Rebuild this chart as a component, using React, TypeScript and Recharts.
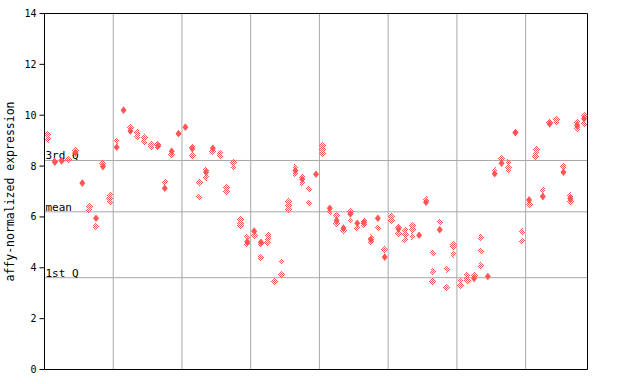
import React from 'react';
import { ReferenceLine, Scatter, ScatterChart, XAxis, YAxis } from 'recharts';

// one column per sample, x = index + 0.5
const sampleCount = 79;

// solid diamonds
const filledExpr: (number | null)[] = [
  null, 8.15, 8.2, null, 8.52, 7.33, null, 5.95, 7.98, null,
  8.74, 10.2, 9.38, null, null, null, 8.8, 7.13, 8.58, 9.28,
  9.53, 8.68, null, 7.76, 8.7, null, null, null, null, 5.02,
  5.44, 5.0, null, null, null, null, 7.82, 7.48, null, 7.68,
  null, 6.34, 5.86, 5.56, 6.12, 5.75, 5.78, 5.1, 5.95, 4.42,
  null, 5.53, null, null, 5.28, 6.58, null, 5.5, null, null,
  null, null, 3.58, null, 3.66, 7.7, 8.11, null, 9.31, null,
  6.67, null, 6.8, 9.66, null, 7.76, 6.72, 9.6, 9.86,
];

// checkered diamonds (up to three per sample)
const hatchA: (number | null)[] = [
  9.25, 8.2, 8.25, 8.28, 8.6, null, 6.42, 5.62, 8.1, 6.85,
  9.0, null, 9.5, 9.3, 9.12, 8.85, 8.85, 7.37, 8.47, 9.24,
  null, 8.75, 7.35, 7.84, 8.57, 8.5, 7.15, 8.12, 5.9, 5.2,
  5.27, 4.95, 5.27, 3.46, 4.25, 6.6, 7.95, 7.58, 7.1, null,
  8.8, 6.21, 6.06, 5.48, 6.23, 5.57, 5.85, 5.18, 5.57, 4.71,
  6.0, 5.6, 5.49, 5.66, null, 6.68, 4.59, 5.81, 3.96, 4.9,
  3.5, 3.7, 3.7, 5.18, null, 7.83, 8.28, 8.15, 9.36, 5.41,
  6.49, 8.65, 7.04, 9.7, 9.82, 7.96, 6.82, 9.73, 9.99,
];

const hatchB: (number | null)[] = [
  9.05, null, null, 8.22, null, null, 6.28, null, null, 6.72,
  null, null, null, 9.18, 8.95, 8.75, 8.75, null, null, null,
  null, 8.42, 6.78, 7.56, null, 8.4, 7.0, 7.95, 5.75, 4.95,
  null, 4.4, 5.12, null, 3.74, 6.45, 7.7, 7.35, 6.55, null,
  8.65, null, 5.75, null, 5.86, null, 5.7, 5.02, null, null,
  5.85, 5.36, 5.3, 5.5, null, null, 3.84, null, 3.21, 4.82,
  3.3, 3.55, null, 4.67, null, null, null, 7.95, null, 5.06,
  null, 8.5, null, null, 9.72, null, 6.62, 9.49, 9.66,
];

const hatchC: (number | null)[] = [
  null, null, null, null, null, null, null, null, null, 6.6,
  null, null, null, null, null, null, null, null, null, null,
  null, null, null, null, null, null, null, null, 5.65, null,
  null, null, 5.0, null, null, 6.3, null, null, null, null,
  8.5, null, null, null, null, null, null, null, null, null,
  null, null, 5.1, 5.23, null, null, 3.46, null, null, 4.55,
  null, 3.5, null, 4.08, null, null, null, 7.82, null, null,
  null, 8.38, null, null, null, null, null, null, null,
];

const quantiles = [
  { name: '3rd Q', value: 8.22 },
  { name: 'mean', value: 6.2 },
  { name: '1st Q', value: 3.61 },
];

const yTicks = [0, 2, 4, 6, 8, 10, 12, 14];
const groupLines = [10, 20, 30, 40, 50, 60, 70];

const RED = '#ff5555';
const GRID = '#a8a8a8';
const MONO = '"DejaVu Sans Mono", "Liberation Mono", monospace';

const toPoints = (vals: (number | null)[]) =>
  vals
    .map((v, i) => (v == null ? null : { x: i + 0.5, y: v }))
    .filter((p): p is { x: number; y: number } => p !== null);

const hatchPoints = [...toPoints(hatchA), ...toPoints(hatchB), ...toPoints(hatchC)];
const filledPoints = toPoints(filledExpr);

const diamond = (cx: number, cy: number, hw: number, hh: number) =>
  `${cx},${cy - hh} ${cx + hw},${cy} ${cx},${cy + hh} ${cx - hw},${cy}`;

const FilledDiamond = (props: any) => {
  const { cx, cy } = props;
  if (cx == null || cy == null) return <g />;
  return <polygon points={diamond(cx, cy, 3, 3.8)} fill={RED} />;
};

const HatchDiamond = (props: any) => {
  const { cx, cy } = props;
  if (cx == null || cy == null) return <g />;
  return <polygon points={diamond(cx, cy, 3.6, 3.8)} fill="url(#chk)" shapeRendering="crispEdges" />;
};

const NoTick = () => <g />;

const AxisTitle = (p: any) => {
  const vb = p.viewBox || { x: 0, y: 13.5, width: 44, height: 356 };
  const cy = vb.y + vb.height / 2;
  return (
    <text
      x={14}
      y={cy}
      transform={`rotate(-90 14 ${cy})`}
      textAnchor="middle"
      fontSize={11.5}
      fontFamily={MONO}
      fill="#000"
    >
      affy-normalized expression
    </text>
  );
};

const App = () => {
  return (
    <div style={{ position: 'absolute', left: 0, top: 0, width: 640, height: 384, background: '#fff' }}>
      <svg width={0} height={0} style={{ position: 'absolute' }}>
        <defs>
          <pattern id="chk" width={2} height={2} patternUnits="userSpaceOnUse">
            <rect x={0} y={0} width={1} height={1} fill={RED} />
            <rect x={1} y={1} width={1} height={1} fill={RED} />
          </pattern>
        </defs>
      </svg>
      <ScatterChart width={640} height={384} margin={{ top: 13.5, right: 0, bottom: 0, left: 0.5 }}>
        <XAxis
          type="number"
          dataKey="x"
          domain={[0, sampleCount]}
          ticks={groupLines}
          tick={false}
          tickLine={false}
          height={14.5}
          axisLine={{ stroke: '#000' }}
          allowDataOverflow
        />
        <YAxis
          type="number"
          dataKey="y"
          domain={[0, 14]}
          ticks={yTicks}
          width={44}
          tickSize={5}
          tickMargin={3}
          axisLine={{ stroke: '#000' }}
          tickLine={{ stroke: '#000' }}
          tick={{ fontSize: 10, fontFamily: MONO, fill: '#000' }}
          label={{ content: AxisTitle }}
        />
        <YAxis
          yAxisId="right"
          orientation="right"
          type="number"
          domain={[0, 14]}
          ticks={yTicks}
          width={52.5}
          tickSize={-5}
          axisLine={{ stroke: '#000' }}
          tickLine={{ stroke: '#000' }}
          tick={NoTick}
        />
        {groupLines.map((g) => (
          <ReferenceLine key={g} x={g} stroke={GRID} />
        ))}
        {quantiles.map((q) => (
          <ReferenceLine
            key={q.name}
            y={q.value}
            stroke={GRID}
            label={{
              content: (p: any) => (
                <text
                  x={(p.viewBox?.x ?? 44) + 1}
                  y={(p.viewBox?.y ?? 0) - 1}
                  fontSize={11}
                  fontFamily={MONO}
                  fill="#000"
                >
                  {q.name}
                </text>
              ),
            }}
          />
        ))}
        <ReferenceLine y={14} stroke="#000" />
        <Scatter data={hatchPoints} shape={HatchDiamond} isAnimationActive={false} />
        <Scatter data={filledPoints} shape={FilledDiamond} isAnimationActive={false} />
      </ScatterChart>
    </div>
  );
};

export default App;
